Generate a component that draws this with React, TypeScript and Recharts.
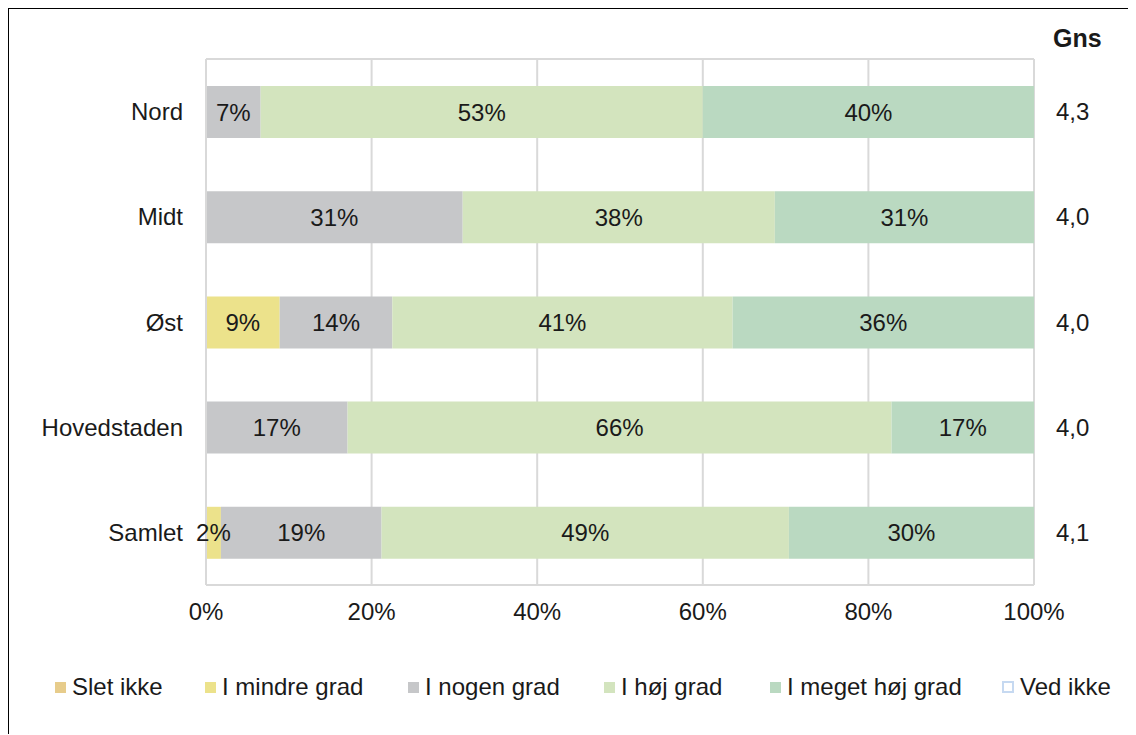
import { BarChart, Bar, XAxis, YAxis, CartesianGrid, Legend, LabelList } from 'recharts';

const regions = ['Nord', 'Midt', 'Øst', 'Hovedstaden', 'Samlet'];
const sletIkke = [0, 0, 0, 0, 0];
const mindreGrad = [0, 0, 8.9, 0, 1.8];
const nogenGrad = [6.6, 31.0, 13.6, 17.1, 19.4];
const hoejGrad = [53.4, 37.7, 41.1, 65.7, 49.2];
const megetHoejGrad = [40.0, 31.3, 36.4, 17.2, 29.6];
const vedIkke = [0, 0, 0, 0, 0];
const gns = ['4,3', '4,0', '4,0', '4,0', '4,1'];
const xTicks = [0, 20, 40, 60, 80, 100];

const FONT = '"Liberation Sans", Arial, sans-serif';
const TEXT = '#1a1a1a';
const GRID = '#d9d9d9';
const FS = 24;

// legend item left edges (px, inside the chart)
const LEGEND_X = [46, 196, 399, 595, 761, 993];

const series = [
  { key: 'sletIkke', name: 'Slet ikke', fill: '#e7cc8b', stroke: 'none' },
  { key: 'mindreGrad', name: 'I mindre grad', fill: '#ece28b', stroke: 'none' },
  { key: 'nogenGrad', name: 'I nogen grad', fill: '#c6c7c9', stroke: 'none' },
  { key: 'hoejGrad', name: 'I høj grad', fill: '#d3e4be', stroke: 'none' },
  { key: 'megetHoejGrad', name: 'I meget høj grad', fill: '#bad9c1', stroke: 'none' },
  { key: 'vedIkke', name: 'Ved ikke', fill: '#ffffff', stroke: '#c6d9f1' },
];

const data = regions.map((name, i) => ({
  name,
  sletIkke: sletIkke[i],
  mindreGrad: mindreGrad[i],
  nogenGrad: nogenGrad[i],
  hoejGrad: hoejGrad[i],
  megetHoejGrad: megetHoejGrad[i],
  vedIkke: vedIkke[i],
}));

const gnsByRegion: Record<string, string> = {};
regions.forEach((r, i) => {
  gnsByRegion[r] = gns[i];
});

const pct = (v: unknown) => {
  const n = Number(v);
  return n > 0 ? `${Math.round(n)}%` : '';
};

function LegendBox() {
  return (
    <div
      style={{
        position: 'relative',
        height: 28,
        fontFamily: FONT,
        fontSize: FS,
        color: TEXT,
        whiteSpace: 'nowrap',
      }}
    >
      {series.map((s, i) => (
        <div
          key={s.key}
          style={{
            position: 'absolute',
            left: LEGEND_X[i],
            top: 0,
            height: 28,
            display: 'flex',
            alignItems: 'center',
          }}
        >
          <span
            style={{
              display: 'inline-block',
              width: s.stroke === 'none' ? 11 : 8,
              height: s.stroke === 'none' ? 11 : 8,
              background: s.fill,
              border: s.stroke === 'none' ? 'none' : `2px solid ${s.stroke}`,
              marginRight: 6,
            }}
          />
          <span>{s.name}</span>
        </div>
      ))}
    </div>
  );
}

export default function App() {
  return (
    <div
      style={{
        position: 'relative',
        marginLeft: -1,
        marginTop: -1,
        width: 1128,
        height: 727,
        boxSizing: 'border-box',
        borderTop: '2px solid #000',
        borderLeft: '2px solid #000',
        overflow: 'hidden',
        background: '#fff',
      }}
    >
      <div
        style={{
          position: 'absolute',
          left: 1044,
          top: 15,
          fontFamily: FONT,
          fontWeight: 'bold',
          fontSize: 25,
          color: TEXT,
        }}
      >
        Gns
      </div>
      <BarChart
        width={1126}
        height={725}
        data={data}
        layout="vertical"
        margin={{ top: 50, right: 0, bottom: 109, left: 0 }}
        barSize={52}
      >
        <CartesianGrid
          stroke={GRID}
          strokeWidth={2}
          horizontal={true}
          horizontalPoints={[50]}
        />
        <XAxis
          type="number"
          domain={[0, 100]}
          ticks={xTicks}
          tickFormatter={(v) => `${v}%`}
          axisLine={{ stroke: GRID, strokeWidth: 2 }}
          tickLine={false}
          tickMargin={12}
          height={40}
          tick={{ fontSize: FS, fill: TEXT, fontFamily: FONT }}
        />
        <YAxis
          yAxisId="left"
          type="category"
          dataKey="name"
          width={197}
          axisLine={{ stroke: GRID, strokeWidth: 2 }}
          tickLine={false}
          tickMargin={17}
          tick={{ fontSize: FS, fill: TEXT, fontFamily: FONT }}
        />
        <YAxis
          yAxisId="right"
          orientation="right"
          type="category"
          dataKey="name"
          width={101}
          axisLine={false}
          tickLine={false}
          tickMargin={16}
          tickFormatter={(v) => gnsByRegion[v] ?? ''}
          tick={{ fontSize: FS, fill: TEXT, fontFamily: FONT }}
        />
        <Legend
          layout="horizontal"
          verticalAlign="middle"
          align="center"
          content={() => <LegendBox />}
          wrapperStyle={{ top: 664, left: 0, width: 1126 }}
        />
        {series.map((s) => (
          <Bar
            key={s.key}
            yAxisId="left"
            dataKey={s.key}
            name={s.name}
            stackId="a"
            fill={s.fill}
            stroke={s.stroke}
            isAnimationActive={false}
          >
            <LabelList
              dataKey={s.key}
              position="center"
              formatter={pct}
              style={{ fontSize: FS, fill: TEXT, fontFamily: FONT }}
            />
          </Bar>
        ))}
      </BarChart>
    </div>
  );
}
